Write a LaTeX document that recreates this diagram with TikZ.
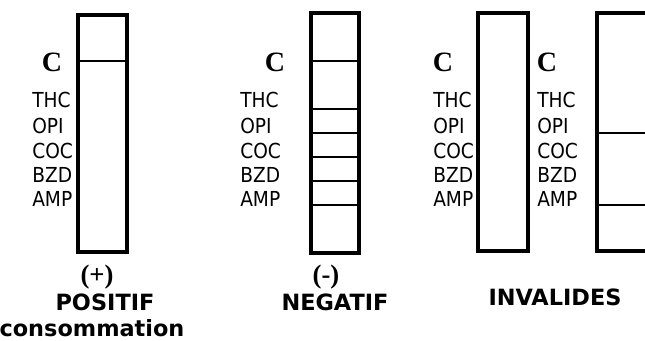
\documentclass[tikz,border=0pt]{standalone}
\usepackage{fontspec}
\setmainfont{Liberation Serif}
\newfontfamily\labelfont{DejaVu Sans}
\newfontfamily\druglabelfont[FakeStretch=0.9]{DejaVu Sans}

\tikzset{
  box/.style={line width=2.3pt},
  cut/.style={line width=1.3pt},
  drug/.style={anchor=west, inner sep=0pt, font=\druglabelfont\fontsize{15.5}{17}\selectfont},
  cmark/.style={inner sep=0pt, font=\bfseries\fontsize{21}{24}\selectfont},
  sign/.style={inner sep=0pt, font=\bfseries\fontsize{20}{24}\selectfont},
  verdict/.style={inner sep=0pt, font=\labelfont\bfseries\fontsize{16.8}{20}\selectfont}
}

\begin{document}
\begin{tikzpicture}[x=0.75pt, y=-0.75pt]
  \useasboundingbox (0,0) rectangle (645,341);

  \coordinate (b1) at (78, 15);
  \coordinate (e1) at (127, 252);
  \draw[box] (b1) rectangle (e1);
  \draw[cut] (78, 61) -- (127, 61);

  \node[cmark] (c1) at (52, 62) {C};
  \node[drug] (thc1) at (32, 99.5) {THC};
  \node[drug] (opi1) at (32, 125.5) {OPI};
  \node[drug] (coc1) at (32, 150.5) {COC};
  \node[drug] (bzd1) at (32, 174.5) {BZD};
  \node[drug] (amp1) at (32, 198.5) {AMP};

  \node[sign] (plus) at (97, 277) {(+)};
  \node[verdict] (pos) at (105, 302.5) {POSITIF};
  \node[verdict] (cons) at (92, 328) {consommation};

  \coordinate (b2) at (311, 13);
  \coordinate (e2) at (359, 253);
  \draw[box] (b2) rectangle (e2);
  \draw[cut] (311, 61) -- (359, 61);
  \draw[cut] (311, 109) -- (359, 109);
  \draw[cut] (311, 133) -- (359, 133);
  \draw[cut] (311, 157) -- (359, 157);
  \draw[cut] (311, 181) -- (359, 181);
  \draw[cut] (311, 205) -- (359, 205);

  \node[cmark] (c2) at (275, 62) {C};
  \node[drug] (thc2) at (240, 99.5) {THC};
  \node[drug] (opi2) at (240, 125.5) {OPI};
  \node[drug] (coc2) at (240, 150.5) {COC};
  \node[drug] (bzd2) at (240, 174.5) {BZD};
  \node[drug] (amp2) at (240, 198.5) {AMP};

  \node[sign] (minus) at (326, 277) {(-)};
  \node[verdict] (neg) at (335, 302.5) {NEGATIF};

  \coordinate (b3) at (478, 13);
  \coordinate (e3) at (528, 251);
  \draw[box] (b3) rectangle (e3);

  \node[cmark] (c3) at (443, 62) {C};
  \node[drug] (thc3) at (433, 99.5) {THC};
  \node[drug] (opi3) at (433, 125.5) {OPI};
  \node[drug] (coc3) at (433, 150.5) {COC};
  \node[drug] (bzd3) at (433, 174.5) {BZD};
  \node[drug] (amp3) at (433, 198.5) {AMP};

  \draw[box] (660, 13) -- (597, 13) -- (597, 251) -- (660, 251);
  \draw[cut] (597, 133) -- (660, 133);
  \draw[cut] (597, 205) -- (660, 205);

  \node[cmark] (c4) at (547, 62) {C};
  \node[drug] (thc4) at (537, 99.5) {THC};
  \node[drug] (opi4) at (537, 125.5) {OPI};
  \node[drug] (coc4) at (537, 150.5) {COC};
  \node[drug] (bzd4) at (537, 174.5) {BZD};
  \node[drug] (amp4) at (537, 198.5) {AMP};

  \node[verdict] (inv) at (555, 297) {INVALIDES};
\end{tikzpicture}
\end{document}
